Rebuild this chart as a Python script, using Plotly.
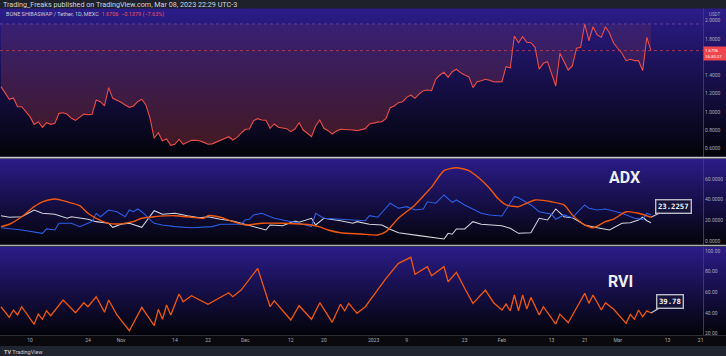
import pandas as pd
import plotly.graph_objects as go

# ---------------- data ----------------
START = pd.Timestamp("2022-10-03")  # first daily bar

# BONE/USDT daily closes, one per day from START
price = [1.277, 1.205, 1.139, 1.153, 1.058, 1.058, 1.003, 0.949, 0.865, 0.894,
         0.833, 0.883, 0.865, 0.876, 0.985, 0.992, 0.975, 0.931, 0.909, 0.942,
         0.978, 0.971, 0.975, 1.131, 1.113, 1.066, 1.266, 1.149, 1.131, 1.106,
         1.077, 1.051, 1.066, 1.113, 1.139, 1.077, 0.931, 0.713, 0.774, 0.686,
         0.705, 0.636, 0.647, 0.702, 0.647, 0.669, 0.691, 0.690, 0.686, 0.668,
         0.647, 0.652, 0.672, 0.690, 0.713, 0.730, 0.694, 0.723, 0.770, 0.811,
         0.814, 0.905, 0.927, 0.913, 0.909, 0.822, 0.869, 0.833, 0.825, 0.818,
         0.785, 0.814, 0.883, 0.803, 0.768, 0.730, 0.847, 0.913, 0.822, 0.796,
         0.760, 0.792, 0.811, 0.809, 0.811, 0.804, 0.796, 0.811, 0.818, 0.869,
         0.883, 0.889, 0.894, 0.931, 1.047, 1.066, 1.102, 1.113, 1.160, 1.186,
         1.149, 1.197, 1.233, 1.240, 1.233, 1.357, 1.404, 1.434, 1.379, 1.440,
         1.467, 1.430, 1.404, 1.386, 1.266, 1.331, 1.342, 1.357, 1.346, 1.331,
         1.329, 1.331, 1.495, 1.484, 1.831, 1.757, 1.823, 1.762, 1.757, 1.707,
         1.467, 1.532, 1.550, 1.423, 1.284, 1.642, 1.550, 1.459, 1.503, 1.696,
         1.707, 1.962, 1.779, 1.932, 1.842, 1.816, 1.932, 1.860, 1.751, 1.696,
         1.640, 1.561, 1.576, 1.561, 1.561, 1.452, 1.816, 1.6706]

# ADX (orange) -- day offsets from START and values
adx_days = [0, 2, 5, 8, 10, 13, 16, 19, 21, 23, 26, 28, 32, 34, 37, 42, 46, 49, 50, 53,
            56, 59, 63, 68, 72, 75, 77, 79, 82, 87, 91, 93, 96, 100, 103, 104, 107, 110,
            113, 116, 118, 120, 122, 125, 127, 129, 133, 136, 138, 141, 143, 146, 148,
            151, 154, 157]
adx_vals = [14.2, 16.5, 23.7, 33.3, 38.0, 40.7, 38.0, 34.3, 27.0, 22.2, 17.4, 16.7, 19.0,
            22.2, 23.7, 24.7, 23.2, 22.2, 24.7, 23.2, 19.0, 15.8, 17.4, 17.4, 16.7, 15.8,
            14.0, 11.0, 8.4, 7.2, 6.2, 9.4, 22.2, 35.0, 47.7, 52.0, 67.8, 70.6, 67.8, 58.9,
            51.0, 41.3, 35.0, 33.3, 36.6, 39.7, 38.0, 35.0, 25.4, 15.8, 13.2, 19.0, 21.5,
            28.5, 27.0, 23.2257]

# +DI (blue)
pdi_days = [0, 5, 10, 11, 13, 14, 17, 19, 21, 22, 23, 24, 26, 28, 30, 31, 32, 33, 34, 37,
            39, 42, 46, 51, 53, 58, 59, 60, 61, 63, 66, 70, 72, 75, 76, 78, 82, 88, 89, 91,
            94, 96, 98, 100, 102, 103, 105, 107, 109, 110, 112, 116, 118, 121, 124, 125,
            128, 130, 133, 134, 136, 138, 141, 142, 144, 146, 150, 153, 155, 156, 157]
pdi_vals = [13.2, 11.0, 7.8, 12.0, 11.0, 17.4, 17.4, 14.2, 17.4, 19.0, 27.0, 23.7, 30.1,
            28.5, 23.7, 30.1, 28.5, 31.1, 28.5, 17.4, 15.8, 14.2, 13.2, 14.2, 16.5, 16.5,
            20.6, 21.2, 25.4, 27.0, 22.2, 19.0, 17.4, 14.2, 27.0, 22.2, 21.2, 19.9, 24.7,
            23.2, 36.6, 31.8, 33.3, 30.1, 31.1, 38.0, 36.6, 44.5, 37.5, 39.7, 35.0, 27.0,
            25.4, 24.4, 42.9, 41.9, 35.0, 28.5, 26.0, 21.2, 25.4, 22.8, 35.0, 31.8, 30.1,
            31.1, 27.0, 22.2, 21.2, 27.0, 25.4]

# -DI (white)
mdi_days = [0, 2, 5, 8, 10, 13, 16, 17, 21, 23, 26, 27, 29, 31, 34, 35, 37, 39, 42, 45,
            48, 50, 53, 56, 60, 64, 65, 68, 71, 72, 75, 76, 78, 82, 85, 86, 89, 92, 94, 96,
            101, 107, 108, 109, 110, 112, 114, 116, 121, 123, 125, 128, 130, 132, 134, 136,
            138, 141, 144, 147, 150, 152, 154, 155, 156, 157]
mdi_vals = [24.7, 23.2, 23.7, 30.1, 27.0, 26.0, 22.2, 23.7, 21.2, 19.0, 17.4, 13.6, 16.5,
            17.4, 13.6, 19.0, 29.5, 26.0, 27.0, 24.7, 22.8, 23.7, 21.2, 19.6, 15.1, 11.0,
            15.8, 15.1, 19.6, 18.4, 22.2, 15.8, 22.2, 19.9, 17.4, 19.0, 16.5, 15.8, 11.7,
            8.4, 5.6, 2.4, 7.8, 6.9, 12.0, 12.0, 19.0, 16.5, 15.1, 12.6, 7.8, 8.4, 22.2,
            20.6, 31.1, 23.7, 22.8, 15.8, 13.2, 11.0, 17.4, 18.0, 20.6, 23.2, 19.9, 18.0]

# RVI (orange)
rvi_days = [0, 2, 3, 4, 5, 8, 9, 10, 11, 12, 15, 18, 20, 21, 23, 25, 26, 28, 31, 34, 37,
            38, 39, 40, 41, 43, 44, 46, 50, 55, 56, 58, 62, 65, 66, 70, 72, 75, 77, 80, 82,
            83, 84, 86, 88, 91, 93, 96, 99, 100, 103, 104, 107, 108, 110, 112, 114, 117,
            119, 121, 122, 123, 124, 125, 126, 127, 128, 130, 131, 134, 135, 137, 141, 142,
            143, 145, 146, 148, 151, 152, 153, 154, 155, 156, 157]
rvi_vals = [45.9, 35.6, 42.7, 37.9, 45.9, 28.8, 38.8, 33.7, 42.0, 37.2, 52.4, 40.1, 49.8,
            45.9, 55.6, 40.5, 52.4, 37.9, 22.6, 45.3, 27.5, 43.4, 33.7, 47.6, 37.9, 58.3,
            50.8, 56.6, 48.3, 59.5, 55.6, 62.1, 83.2, 45.9, 51.7, 33.0, 46.9, 33.7, 49.8,
            30.8, 48.3, 42.0, 49.2, 39.5, 45.9, 62.0, 73.5, 88.0, 93.9, 77.4, 84.8, 76.0,
            84.8, 70.2, 79.3, 63.8, 49.2, 62.1, 49.8, 42.7, 48.5, 42.0, 57.3, 42.0, 57.3,
            43.7, 55.0, 37.9, 45.9, 29.1, 38.8, 30.4, 58.9, 49.2, 57.3, 42.7, 49.8, 43.5,
            29.8, 38.5, 33.7, 42.7, 36.2, 42.0, 39.78]

x_tick_dates = ["2022-10-10", "2022-10-24", "2022-11-01", "2022-11-14", "2022-11-22",
                "2022-12-01", "2022-12-12", "2022-12-20", "2023-01-01", "2023-01-09",
                "2023-01-23", "2023-02-01", "2023-02-13", "2023-02-21", "2023-03-01",
                "2023-03-13", "2023-03-21"]
x_tick_text = ["10", "24", "Nov", "14", "22", "Dec", "12", "20", "2023", "9", "23",
               "Feb", "13", "21", "Mar", "13", "21"]
price_ticks = [0.6, 0.8, 1.0, 1.2, 1.4, 1.6, 1.8, 2.0]
adx_ticks = [0, 20, 40, 60]
rvi_ticks = [20, 40, 60, 80, 100]

# ---------------- layout helpers ----------------
W, H = 726, 356
TOP, BOTTOM = 8, 335          # plot area rows in pixels


def py(y):
    return (BOTTOM - y) / (BOTTOM - TOP)


def px(x):
    return x / W


def to_dates(days):
    return START + pd.to_timedelta(days, unit="D")


X_RANGE = ["2022-10-02 18:12", "2023-03-27 02:53"]
P_RANGE = [0.5027, 2.1366]
A_RANGE = [-3.83, 79.4]
R_RANGE = [18.45, 104.4]

TOPC, MIDC, BOTC = "rgb(44,28,138)", "rgb(22,15,72)", "rgb(3,3,8)"
RED = "#ea4d48"
ORANGE = "#f0570e"
BLUE = "#2b5fe6"
WHITE = "#d3d5dd"
FONT = "Roboto"

fig = go.Figure()


def background(yaxis, rng):
    fig.add_trace(go.Scatter(
        x=[X_RANGE[0], X_RANGE[1], X_RANGE[1], X_RANGE[0], X_RANGE[0]],
        y=[rng[0], rng[0], rng[1], rng[1], rng[0]],
        mode="lines", line=dict(width=0), fill="toself",
        fillgradient=dict(type="vertical",
                          colorscale=[[0, BOTC], [0.5, MIDC], [1, TOPC]],
                          start=rng[0], stop=rng[1]),
        hoverinfo="skip", showlegend=False, xaxis="x", yaxis=yaxis))


# price panel
background("y", P_RANGE)
pdates = to_dates(list(range(len(price))))
pmax = max(price)
fig.add_trace(go.Scatter(x=pdates, y=[pmax] * len(price), mode="lines",
                         line=dict(width=0), hoverinfo="skip", showlegend=False,
                         xaxis="x", yaxis="y"))
fig.add_trace(go.Scatter(
    x=pdates, y=price, mode="lines", line=dict(color=RED, width=1.1),
    fill="tonexty",
    fillgradient=dict(type="vertical",
                      colorscale=[[0, "rgb(68,24,26)"], [0.45, "rgb(62,27,66)"],
                                  [1, "rgb(56,32,116)"]],
                      start=P_RANGE[0], stop=pmax),
    hoverinfo="skip", showlegend=False, xaxis="x", yaxis="y"))

# ADX panel
background("y2", A_RANGE)
fig.add_trace(go.Scatter(x=to_dates(mdi_days), y=mdi_vals, mode="lines",
                         line=dict(color=WHITE, width=1.05), hoverinfo="skip",
                         showlegend=False, xaxis="x", yaxis="y2"))
fig.add_trace(go.Scatter(x=to_dates(pdi_days), y=pdi_vals, mode="lines",
                         line=dict(color=BLUE, width=1.1), hoverinfo="skip",
                         showlegend=False, xaxis="x", yaxis="y2"))
fig.add_trace(go.Scatter(x=to_dates(adx_days), y=adx_vals, mode="lines",
                         line=dict(color=ORANGE, width=1.4, shape="spline", smoothing=0.6),
                         hoverinfo="skip", showlegend=False, xaxis="x", yaxis="y2"))

# RVI panel
background("y3", R_RANGE)
fig.add_trace(go.Scatter(x=to_dates(rvi_days), y=rvi_vals, mode="lines",
                         line=dict(color=ORANGE, width=1.3), hoverinfo="skip",
                         showlegend=False, xaxis="x", yaxis="y3"))

yax_common = dict(anchor="free", position=px(703), side="right",
                  ticklabelposition="outside", ticklabeloverflow="allow",
                  showgrid=False, zeroline=False, ticks="",
                  showline=True, linecolor="#3b3e4c", linewidth=1,
                  tickfont=dict(family=FONT, size=5, color="#a7aab5"),
                  fixedrange=True)

fig.update_layout(
    width=W, height=H, autosize=False,
    margin=dict(l=0, r=0, t=TOP, b=H - BOTTOM),
    paper_bgcolor="#0a0a0e", plot_bgcolor="#000000",
    showlegend=False, hovermode=False,
    xaxis=dict(domain=[0, 1], range=X_RANGE, type="date", anchor="y3",
               tickvals=x_tick_dates, ticktext=x_tick_text, ticks="",
               showgrid=False, zeroline=False, showline=True,
               linecolor="#2a2d38", linewidth=1,
               tickfont=dict(family=FONT, size=5, color="#a7aab5"),
               fixedrange=True),
    yaxis=dict(domain=[py(157.5), 1], range=P_RANGE, tickvals=price_ticks,
               tickformat=".4f", **yax_common),
    yaxis2=dict(domain=[py(245.5), py(158.5)], range=A_RANGE, tickvals=adx_ticks,
                tickformat=".4f", **yax_common),
    yaxis3=dict(domain=[0, py(246.5)], range=R_RANGE, tickvals=rvi_ticks,
                tickformat=".2f", **yax_common),
)

shapes = [
    # header and footer bars
    dict(type="rect", xref="paper", yref="paper", x0=0, x1=1, y0=py(8.5), y1=py(0),
         fillcolor="#1e212a", line=dict(width=0)),
    dict(type="rect", xref="paper", yref="paper", x0=0, x1=1, y0=py(356), y1=py(346),
         fillcolor="#21252f", line=dict(width=0)),
    # panel separators
    dict(type="line", xref="paper", yref="paper", x0=0, x1=1, y0=py(157.6), y1=py(157.6),
         line=dict(color="#c4c6ce", width=1.8)),
    dict(type="line", xref="paper", yref="paper", x0=0, x1=1, y0=py(245.6), y1=py(245.6),
         line=dict(color="#aeb0ba", width=1.5)),
    # high and last price dotted lines
    dict(type="line", xref="paper", yref="y", x0=0, x1=px(703), y0=pmax, y1=pmax,
         line=dict(color="#6e4aa0", width=0.8, dash="dot")),
    dict(type="line", xref="paper", yref="y", x0=0, x1=px(703), y0=price[-1], y1=price[-1],
         line=dict(color="#c4404e", width=0.8, dash="dot")),
]
fig.update_layout(shapes=shapes)

last_day = to_dates([len(price) - 1])[0]
ann = [
    dict(text="Trading_Freaks published on TradingView.com, Mar 08, 2023 22:29 UTC-3",
         xref="paper", yref="paper", x=px(1), y=py(4.2), xanchor="left", yanchor="middle",
         showarrow=False, font=dict(family=FONT, size=7.2, color="#d1d4dc")),
    dict(text="BONE SHIBASWAP / Tether, 1D, MEXC  "
              "<span style='color:#f0505a'>1.6706  \u22120.1379 (\u22127.63%)</span>",
         xref="paper", yref="paper", x=px(3.5), y=py(14.5), xanchor="left", yanchor="middle",
         showarrow=False, font=dict(family=FONT, size=5.5, color="#c9cbd3")),
    dict(text="USDT", xref="paper", yref="paper", x=px(706.5), y=py(14), xanchor="left",
         yanchor="middle", showarrow=False, font=dict(family=FONT, size=4.5, color="#a7aab5")),
    dict(text="1.6706<br>16:30:27", xref="paper", yref="paper", x=px(703), y=py(53.3),
         xanchor="left", yanchor="middle", align="left", showarrow=False, width=21,
         bgcolor="#f0454f", borderpad=1,
         font=dict(family=FONT, size=4.3, color="#ffffff")),
    dict(text="<b>ADX</b>", xref="paper", yref="paper", x=px(624.5), y=py(177.5),
         xanchor="center", yanchor="middle", showarrow=False,
         font=dict(family=FONT, size=16, color="#eceef3")),
    dict(text="<b>RVI</b>", xref="paper", yref="paper", x=px(620), y=py(281.5),
         xanchor="center", yanchor="middle", showarrow=False,
         font=dict(family=FONT, size=16, color="#eceef3")),
    dict(text="<b>23.2257</b>", xref="x", yref="y2", x=last_day, y=adx_vals[-1],
         ax=23, ay=-11, showarrow=True, arrowhead=0, arrowwidth=1.3, arrowcolor="#b9bbc5",
         bgcolor="#16143a", bordercolor="#b9bbc5", borderwidth=1.4, borderpad=1.5,
         font=dict(family="DejaVu Sans Mono", size=7.3, color="#f2f2f6")),
    dict(text="<b>39.78</b>", xref="x", yref="y3", x=last_day, y=rvi_vals[-1],
         ax=19, ay=-11.5, showarrow=True, arrowhead=0, arrowwidth=1.3, arrowcolor="#b9bbc5",
         bgcolor="#16143a", bordercolor="#b9bbc5", borderwidth=1.4, borderpad=1.5,
         font=dict(family="DejaVu Sans Mono", size=7.3, color="#f2f2f6")),
    dict(text="<b>TV</b> TradingView", xref="paper", yref="paper", x=px(1.5), y=py(351.5),
         xanchor="left", yanchor="middle", showarrow=False,
         font=dict(family=FONT, size=5.5, color="#c9cbd3")),
]
fig.update_layout(annotations=ann)

fig.write_html("out.html", config={"displayModeBar": False, "staticPlot": True})
